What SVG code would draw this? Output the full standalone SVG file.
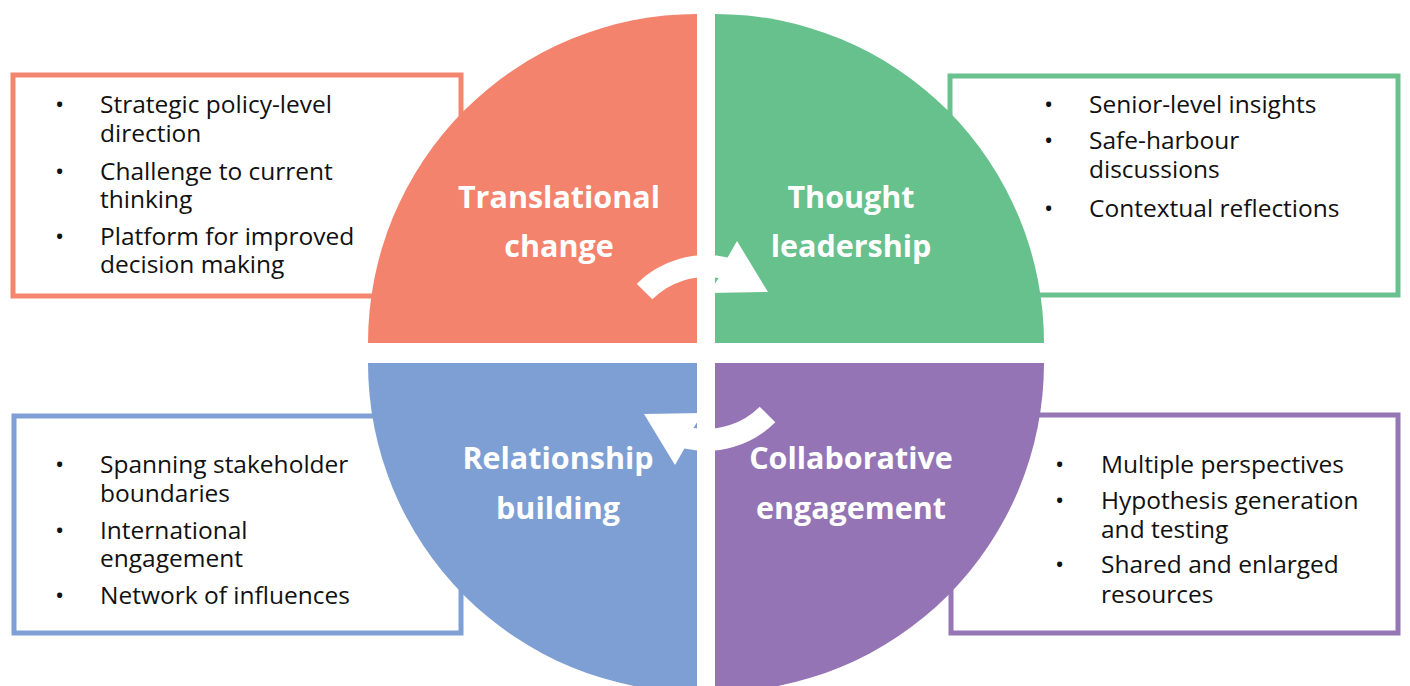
<svg xmlns="http://www.w3.org/2000/svg" width="1410" height="686" viewBox="0 0 1410 686">
<style>
.box{fill:#fff;stroke-width:5}
.body{font-family:"Open Sans","Liberation Sans",sans-serif;font-size:24.5px;fill:#111}
.title{font-family:"Open Sans","Liberation Sans",sans-serif;font-size:30.5px;font-weight:bold;fill:#fff;text-anchor:middle}
.arrow{fill:#fff}
</style>
<defs>
<path id="carrow" d="M636.7,283.7 A98,98 0 0 1 727.6,257.5 L737,241 L768,292 L709,293 L718.6,278.1 A76,76 0 0 0 652.3,299.3 Z"/>
</defs>
<rect width="1410" height="686" fill="#fff"/>
<g id="box-translational">
<rect class="box" x="13" y="75" width="448" height="221" stroke="#F4866F"/>
<text class="body"><tspan x="55" y="113">•</tspan><tspan x="100" y="113">Strategic policy-level</tspan><tspan x="100" y="142">direction</tspan><tspan x="55" y="180">•</tspan><tspan x="100" y="180">Challenge to current</tspan><tspan x="100" y="208">thinking</tspan><tspan x="55" y="245">•</tspan><tspan x="100" y="245">Platform for improved</tspan><tspan x="100" y="273">decision making</tspan></text>
</g>
<g id="box-thought">
<rect class="box" x="950" y="76" width="448" height="219" stroke="#69C28E"/>
<text class="body"><tspan x="1044" y="113">•</tspan><tspan x="1089" y="113">Senior-level insights</tspan><tspan x="1044" y="149">•</tspan><tspan x="1089" y="149">Safe-harbour</tspan><tspan x="1089" y="178">discussions</tspan><tspan x="1044" y="217">•</tspan><tspan x="1089" y="217">Contextual reflections</tspan></text>
</g>
<g id="box-relationship">
<rect class="box" x="14" y="416" width="447" height="217" stroke="#7FA0D4"/>
<text class="body"><tspan x="55" y="473">•</tspan><tspan x="100" y="473">Spanning stakeholder</tspan><tspan x="100" y="502">boundaries</tspan><tspan x="55" y="539">•</tspan><tspan x="100" y="539">International</tspan><tspan x="100" y="567">engagement</tspan><tspan x="55" y="604">•</tspan><tspan x="100" y="604">Network of influences</tspan></text>
</g>
<g id="box-collaborative">
<rect class="box" x="951" y="415" width="447" height="218" stroke="#9677B6"/>
<text class="body"><tspan x="1055" y="473">•</tspan><tspan x="1101" y="473">Multiple perspectives</tspan><tspan x="1055" y="509">•</tspan><tspan x="1101" y="509">Hypothesis generation</tspan><tspan x="1101" y="538">and testing</tspan><tspan x="1055" y="573">•</tspan><tspan x="1101" y="573">Shared and enlarged</tspan><tspan x="1101" y="603">resources</tspan></text>
</g>
<g id="q-translational">
<path d="M697,343 L368,343 A329,329 0 0 1 697,14 Z" fill="#F4836D"/>
<text class="title"><tspan x="559" y="208">Translational</tspan><tspan x="559" y="257">change</tspan></text>
</g>
<g id="q-thought">
<path d="M715,343 L715,14 A329,329 0 0 1 1044,343 Z" fill="#67C18D"/>
<text class="title"><tspan x="851" y="208">Thought</tspan><tspan x="851" y="257">leadership</tspan></text>
</g>
<g id="q-relationship">
<path d="M697,363 L697,692 A329,329 0 0 1 368,363 Z" fill="#7E9FD3"/>
<text class="title"><tspan x="558" y="469">Relationship</tspan><tspan x="558" y="519">building</tspan></text>
</g>
<g id="q-collaborative">
<path d="M715,363 L1044,363 A329,329 0 0 1 715,692 Z" fill="#9474B4"/>
<text class="title"><tspan x="851" y="469">Collaborative</tspan><tspan x="851" y="519">engagement</tspan></text>
</g>
<g id="connectors">
<use href="#carrow" class="arrow"/>
<use href="#carrow" class="arrow" transform="rotate(180 706 353)"/>
</g>
</svg>
